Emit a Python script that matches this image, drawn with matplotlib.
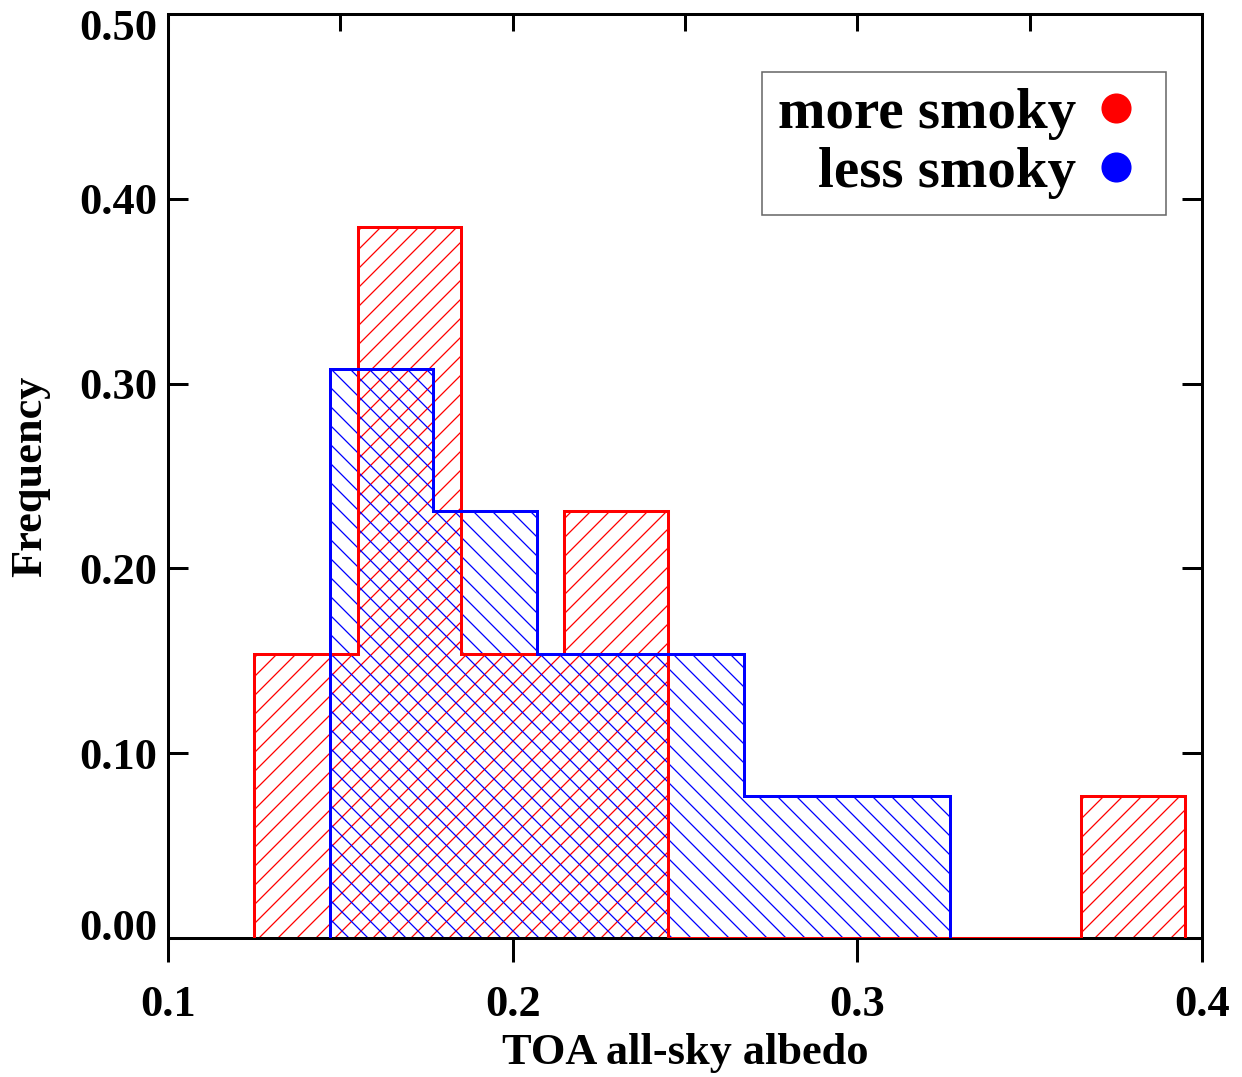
import matplotlib
matplotlib.use("Agg")
import matplotlib.pyplot as plt
import matplotlib.transforms as mtransforms
from matplotlib.lines import Line2D

# ---- data ----
more_edges = [0.125, 0.155, 0.185, 0.215, 0.245, 0.275, 0.305, 0.335, 0.365, 0.395]
more_freq = [0.1538, 0.3846, 0.1538, 0.2308, 0.0, 0.0, 0.0, 0.0, 0.0769]
less_edges = [0.147, 0.177, 0.207, 0.237, 0.267, 0.297, 0.327]
less_freq = [0.3077, 0.2308, 0.1538, 0.1538, 0.0769, 0.0769]
yticks = [0.0, 0.1, 0.2, 0.3, 0.4, 0.5]
xticks = [0.1, 0.2, 0.3, 0.4]
top_ticks = [0.1, 0.15, 0.2, 0.25, 0.3, 0.35, 0.4]
labels = ["more smoky", "less smoky"]

DPI = 114
W, H = 1242, 1077
plt.rcParams['font.family'] = ['Liberation Serif', 'DejaVu Serif']
plt.rcParams['font.weight'] = 'bold'
plt.rcParams['hatch.linewidth'] = 0.8

fig = plt.figure(figsize=(W / DPI, H / DPI), dpi=DPI)
ax = fig.add_axes([168 / W, (H - 938) / H, (1202 - 168) / W, (938 - 14) / H])

RED = '#ff0000'
BLUE = '#0000ff'
lw = 1.9

# hatched fills
ax.stairs(more_freq, more_edges, baseline=0, fill=True, facecolor='none',
          edgecolor=RED, hatch='//', linewidth=0, zorder=1)
ax.stairs(less_freq, less_edges, baseline=0, fill=True, facecolor='none',
          edgecolor=BLUE, hatch='\\\\', linewidth=0, zorder=1.1)
# outlines
ax.stairs(more_freq, more_edges, baseline=0, fill=False, color=RED,
          linewidth=lw, zorder=3)
ax.stairs(less_freq, less_edges, baseline=0, fill=False, color=BLUE,
          linewidth=lw, zorder=3.1)

ax.set_xlim(0.1, 0.4)
ax.set_ylim(0.0, 0.5)
for s in ax.spines.values():
    s.set_linewidth(1.9)

ax.set_xticks(xticks)
ax.set_xticklabels([f"{v:.1f}" for v in xticks])
ax.set_yticks(yticks)
ax.set_yticklabels([f"{v:.2f}" for v in yticks])
ax.tick_params(axis='x', direction='out', length=15, width=1.9, labelsize=28, pad=15)
ax.tick_params(axis='y', direction='in', length=12.5, width=1.9, labelsize=28,
               pad=7, right=True, left=True)

sec = ax.secondary_xaxis('top')
sec.set_xticks(top_ticks)
sec.tick_params(direction='in', length=10.5, width=1.9, labelsize=0, labeltop=False)
sec.spines['top'].set_linewidth(1.9)

ax.set_xlabel("TOA all-sky albedo", fontsize=28, fontweight='bold', labelpad=5)
ax.set_ylabel("Frequency", fontsize=28, fontweight='bold', labelpad=18)

# end labels shifted inward as in the reference
fig.canvas.draw()
ylabs = ax.get_yticklabels()
ylabs[0].set_va('baseline')
ylabs[0].set_transform(ylabs[0].get_transform() +
                       mtransforms.ScaledTranslation(0, -2 / DPI, fig.dpi_scale_trans))
ylabs[-1].set_transform(ylabs[-1].get_transform() +
                        mtransforms.ScaledTranslation(0, -11 / DPI, fig.dpi_scale_trans))

handles = [Line2D([], [], linestyle='none', marker='o', markersize=18,
                  markerfacecolor=RED, markeredgecolor=RED),
           Line2D([], [], linestyle='none', marker='o', markersize=18,
                  markerfacecolor=BLUE, markeredgecolor=BLUE)]
leg = ax.legend(handles, labels, loc='upper right',
                bbox_to_anchor=((1166 - 168) / 1034, (938 - 72) / 924),
                borderaxespad=0, markerfirst=False, fontsize=36,
                frameon=True, fancybox=False, edgecolor='#444444',
                handlelength=1.21, handletextpad=0.09, labelspacing=0.13,
                borderpad=0.28, alignment='right')
leg.get_frame().set_linewidth(1.0)
leg.set_zorder(5)
for t in leg.get_texts():
    t.set_fontweight('bold')
    t.set_ha('right')

fig.savefig("out.png", dpi=DPI)
